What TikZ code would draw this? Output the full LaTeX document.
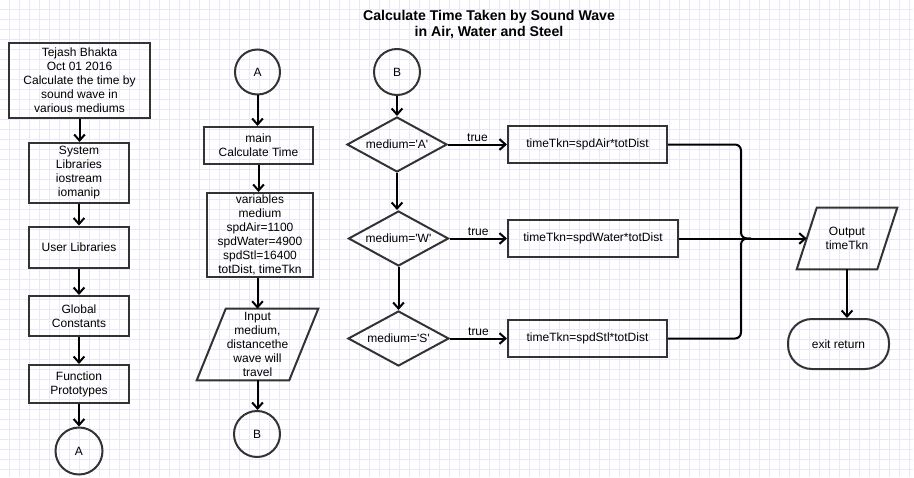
\documentclass[tikz,border=0pt]{standalone}
\usepackage{fontspec}
\setmainfont{Liberation Sans}
\usetikzlibrary{shapes.geometric,arrows.meta,calc}
\definecolor{gridc}{RGB}{233,231,248}
\definecolor{bord}{RGB}{51,51,51}
\begin{document}
\begin{tikzpicture}[x=0.75pt,y=-0.75pt,
  every node/.style={font=\fontsize{9}{10.5}\selectfont, text=black},
  box/.style={draw=bord, line width=1.5pt, inner sep=0pt, align=center},
  conn/.style={draw=bord, line width=1.5pt, circle, inner sep=0pt},
  dec/.style={draw=bord, line width=1.5pt, diamond, aspect=2, inner sep=0pt},
  io/.style={inner sep=0pt, align=center},
  iodraw/.style={draw=bord, line width=1.5pt},
  arr/.style={line width=1.5pt, -{Straight Barb[length=4.5pt,width=8pt]}},
  conline/.style={line width=1.5pt},
  lbl/.style={above, inner sep=1.5pt},
]
\useasboundingbox (0,0) rectangle (914,478);
\fill[white] (0,0) rectangle (914,478);
\foreach \i in {9,19,...,909} \draw[gridc, line width=0.6pt] (\i,0) -- (\i,477);
\foreach \j in {9,19,...,469} \draw[gridc, line width=0.6pt] (0,\j) -- (913,\j);

% title
\node[font=\bfseries\fontsize{10.6}{12.4}\selectfont, align=center] (title) at (489,24.5)
  {Calculate Time Taken by Sound Wave\\in Air, Water and Steel};

% left column
\node[box, minimum width=105.75pt, minimum height=56.25pt] (n1) at (79.5,80.5)
  {Tejash Bhakta\\Oct 01 2016\\Calculate the time by\\sound wave in\\various mediums};
\node[box, minimum width=75pt, minimum height=45pt] (n2) at (79,173)
  {System\\Libraries\\iostream\\iomanip};
\node[box, minimum width=75pt, minimum height=30.75pt] (n3) at (79,247) {User Libraries};
\node[box, minimum width=75pt, minimum height=30pt] (n4) at (79,316) {Global\\Constants};
\node[box, minimum width=75pt, minimum height=28.5pt] (n5) at (79,384) {Function\\Prototypes};
\node[conn, minimum size=35.25pt] (cA1) at (79,451) {A};

\draw[arr] (n1.south) -- (n1.south |- n2.north);
\draw[arr] (n2.south) -- (n3.north);
\draw[arr] (n3.south) -- (n4.north);
\draw[arr] (n4.south) -- (n5.north);
\draw[arr] (n5.south) -- (cA1.north);

% middle column
\node[conn, minimum size=33.75pt] (cA2) at (257.5,72) {A};
\node[box, minimum width=81.75pt, minimum height=27.75pt] (m1) at (258.5,145.5) {main\\Calculate Time};
\node[box, minimum width=79.5pt, minimum height=63pt] (m2) at (260,235)
  {variables\\medium\\spdAir=1100\\spdWater=4900\\spdStl=16400\\totDist, timeTkn};
\node[io, minimum width=69pt, minimum height=53.25pt] (inp) at (257.5,344.5)
  {Input\\medium,\\distancethe\\wave will\\travel};
\draw[iodraw] ($(inp.north west)+(14.5,0)$) -- ($(inp.north east)+(14.5,0)$)
  -- ($(inp.south east)+(-14.5,0)$) -- ($(inp.south west)+(-14.5,0)$) -- cycle;
\node[conn, minimum size=34.5pt] (cB1) at (257,434) {B};

\draw[arr] (cA2.south) -- (cA2.south |- m1.north);
\draw[arr] (m1.south) -- (m1.south |- m2.north);
\draw[arr] (m2.south -| inp.north) -- (inp.north);
\draw[arr] (inp.south) -- (inp.south |- cB1.north);

% decision column
\node[conn, minimum size=34.5pt] (cB2) at (397,72) {B};
\node[dec, minimum width=75pt, minimum height=41.25pt] (dA) at (397,144.5) {medium=\textquotesingle A\textquotesingle};
\node[dec, minimum width=75pt, minimum height=41.25pt] (dW) at (398.5,238.5) {medium=\textquotesingle W\textquotesingle};
\node[dec, minimum width=75.75pt, minimum height=41.25pt] (dS) at (398.5,338.5) {medium=\textquotesingle S\textquotesingle};

\node[box, minimum width=119.25pt, minimum height=27.75pt] (bA) at (587.5,144.5) {timeTkn=spdAir*totDist};
\node[box, minimum width=127.5pt, minimum height=27.75pt] (bW) at (593,238.5) {timeTkn=spdWater*totDist};
\node[box, minimum width=119.25pt, minimum height=27.75pt] (bS) at (587.5,338.5) {timeTkn=spdStl*totDist};

\draw[arr] (cB2.south) -- (cB2.south |- dA.north);
\draw[arr] (dA.south) -- (dA.south |- dW.north);
\draw[arr] (dW.south) -- (dS.north);

\draw[arr] (dA.east) -- node[lbl] {true} (bA.west);
\draw[arr] (dW.east) -- node[lbl] {true} (bW.west);
\draw[arr] (dS.east) -- node[lbl] {true} (bS.west);

% output column
\node[io, minimum width=60pt, minimum height=45.75pt] (out) at (847,238.5) {Output\\timeTkn};
\draw[iodraw] ($(out.north west)+(10,0)$) -- ($(out.north east)+(10,0)$)
  -- ($(out.south east)+(-10,0)$) -- ($(out.south west)+(-10,0)$) -- cycle;
\node[draw=bord, line width=1.5pt, rounded corners=18pt, minimum width=75.75pt,
  minimum height=37.5pt, inner sep=0pt] (exit) at (838.5,344) {exit return};

\coordinate (j) at (741,238.5);
\draw[conline, rounded corners=4.5pt] (bA.east) -- (bA.east -| j) -- (j) -- ($(j)+(10,0)$);
\draw[conline, rounded corners=4.5pt] (bS.east) -- (bS.east -| j) -- (j) -- ($(j)+(10,0)$);
\draw[arr] (bW.east) -- (out.west);
\draw[arr] (out.south) -- (out.south |- exit.north);
\end{tikzpicture}
\end{document}
